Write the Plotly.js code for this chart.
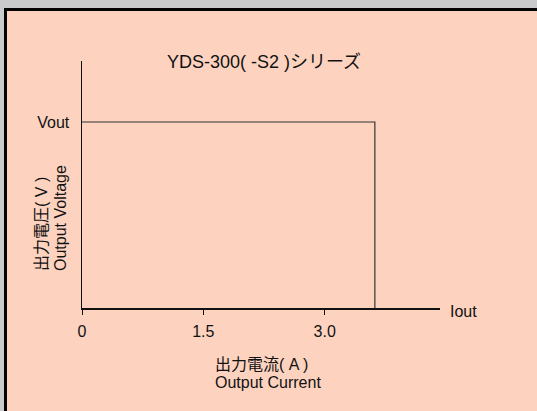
<!DOCTYPE html>
<html>
<head>
<meta charset="utf-8">
<script src="https://cdn.plot.ly/plotly-3.0.1.min.js"></script>
<style>
  html, body { margin: 0; padding: 0; background: #c9cacc; width: 537px; height: 411px; overflow: hidden; }
  #frame { position: absolute; left: 4px; top: 8px; width: 533px; height: 403px; box-sizing: border-box;
           background: #fdd3c0; border-left: 3px solid #000; border-top: 3px solid #000; }
  #chart { position: absolute; left: 0; top: 0; width: 537px; height: 411px; }
</style>
</head>
<body>
<div id="frame"></div>
<div id="chart"></div>
<script>
// Data
const currentA = [0, 3.62, 3.62];      // Output current (A)
const voltageRel = [1, 1, 0];          // Output voltage (1 = Vout)
const xTickVals = [0, 1.5, 3.0];
const xTickText = ['0', '1.5', '3.0'];
const yTickVals = [1];
const yTickText = ['Vout'];
const titleText = 'YDS-300( -S2 )シリーズ';
const xTitleLines = ['出力電流( A )', 'Output Current'];
const yTitleLines = ['出力電圧( V )', 'Output Voltage'];
const xEndLabel = 'Iout';

const FONT = 'Liberation Sans, Arial, Noto Sans CJK JP, sans-serif';

// pixel helpers for the plot area (82..440 x, 61..308 y)
const L = 82, R = 440, T = 61, B = 308;
const px = v => (v - L) / (R - L);
const py = v => (B - v) / (B - T);

const trace = {
  x: currentA, y: voltageRel, type: 'scatter', mode: 'lines',
  line: { color: '#333', width: 1.2 }, hoverinfo: 'skip'
};

const annotations = [
  { text: xEndLabel, xref: 'paper', yref: 'paper', x: px(448), y: py(311), xanchor: 'left', yanchor: 'middle', showarrow: false },
  { text: xTitleLines[0], xref: 'paper', yref: 'paper', x: px(213), y: py(364.5), xanchor: 'left', yanchor: 'middle', showarrow: false },
  { text: xTitleLines[1], xref: 'paper', yref: 'paper', x: px(213), y: py(382.5), xanchor: 'left', yanchor: 'middle', showarrow: false },
  { text: yTitleLines[0], xref: 'paper', yref: 'paper', x: px(41), y: py(273), xanchor: 'center', yanchor: 'bottom', textangle: -90, showarrow: false },
  { text: yTitleLines[1], xref: 'paper', yref: 'paper', x: px(60), y: py(273), xanchor: 'center', yanchor: 'bottom', textangle: -90, showarrow: false }
];

const layout = {
  width: 537, height: 411,
  margin: { l: L, r: 537 - R, t: T, b: 411 - B, pad: 0 },
  paper_bgcolor: 'rgba(0,0,0,0)', plot_bgcolor: 'rgba(0,0,0,0)',
  font: { family: FONT, size: 16, color: '#111' },
  showlegend: false,
  title: { text: titleText, x: 264 / 537, xanchor: 'center', y: 1 - 62 / 411, yanchor: 'middle', yref: 'container', xref: 'container',
           font: { family: FONT, size: 18, color: '#111' } },
  xaxis: {
    range: [0, (R - L) / 80.9], tickvals: xTickVals, ticktext: xTickText,
    ticks: 'outside', ticklen: 5, tickwidth: 1, tickcolor: '#111',
    showline: true, linecolor: '#111', linewidth: 1.5, showgrid: false, zeroline: false,
    ticklabelstandoff: 3, fixedrange: true
  },
  yaxis: {
    range: [0, (B - T) / (B - 122)], tickvals: yTickVals, ticktext: yTickText,
    ticks: '', showline: true, linecolor: '#111', linewidth: 1.5, showgrid: false, zeroline: false,
    ticklabelstandoff: 8, fixedrange: true
  },
  annotations: annotations
};

Plotly.newPlot('chart', [trace], layout, { displayModeBar: false, staticPlot: true });
</script>
</body>
</html>
